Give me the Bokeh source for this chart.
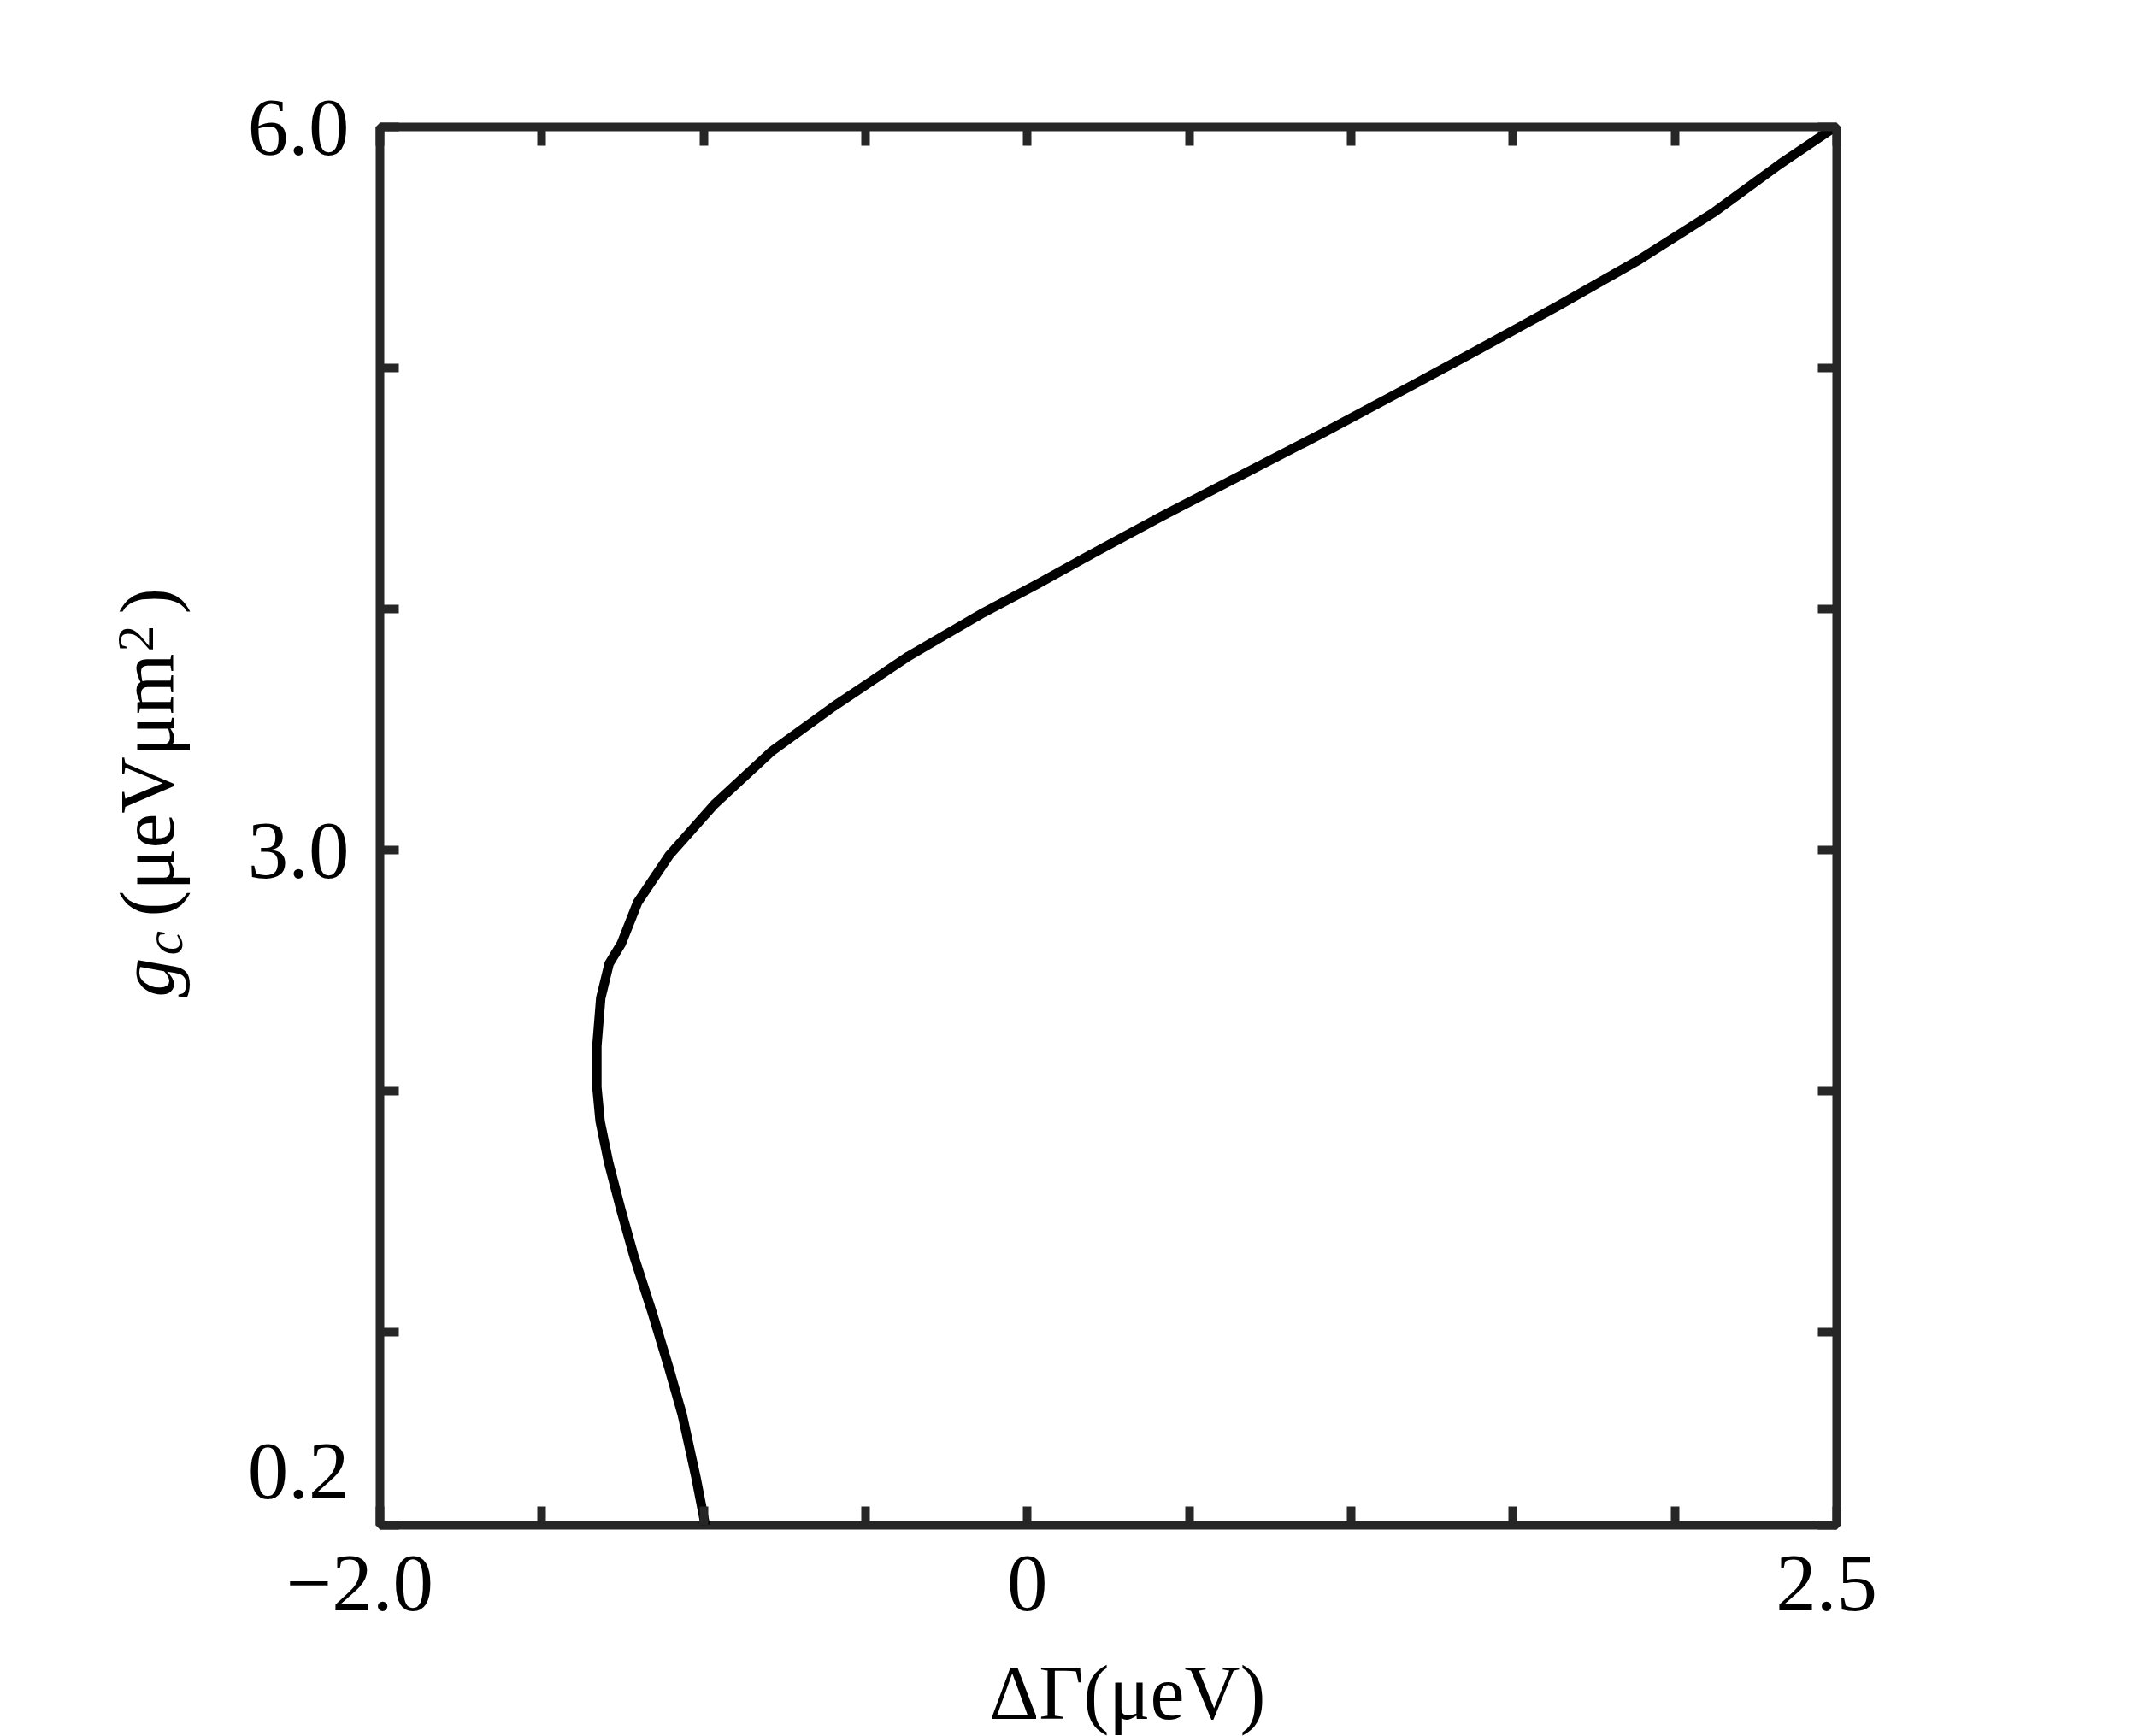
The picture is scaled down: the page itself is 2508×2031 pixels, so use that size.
import math
from bokeh.plotting import figure
from bokeh.layouts import row
from bokeh.models import Range1d, LinearAxis, FixedTicker
from bokeh.core.properties import value
from bokeh.embed import file_html
from bokeh.resources import INLINE

# ---- data ----
delta_gamma = [-0.995, -1.024, -1.066, -1.108, -1.159, -1.214, -1.256, -1.294, -1.320,
               -1.330, -1.330, -1.318, -1.292, -1.254, -1.204, -1.106, -0.967, -0.790,
               -0.600, -0.367, -0.135, 0.032, 0.201, 0.412, 0.666, 0.919, 1.173, 1.384,
               1.638, 1.891, 2.123, 2.326, 2.495]
g_c = [0.20, 0.40, 0.657, 0.855, 1.082, 1.31, 1.51, 1.706, 1.876,
       2.018, 2.188, 2.387, 2.53, 2.614, 2.784, 2.98, 3.19, 3.41,
       3.595, 3.805, 3.986, 4.105, 4.23, 4.383, 4.559, 4.735, 4.917, 5.07,
       5.257, 5.45, 5.648, 5.847, 6.0]

x_ticks = [-2.0, -1.5, -1.0, -0.5, 0.0, 0.5, 1.0, 1.5, 2.0, 2.5]
x_tick_labels = {-2.0: "\u22122.0\u2002", 0.0: "0", 2.5: "2.5\u2005"}
y_ticks = [0.2, 1.0, 2.0, 3.0, 4.0, 5.0, 6.0]
y_tick_labels = {0.2: "0.2\n", 3.0: "3.0", 6.0: "6.0"}
x_label = "\u2002\u0394\u0393(\u03bceV)"
# y label pieces: g_c (\u03bceV\u03bcm^2)
y_label_text = ["g", "c", "(\u03bceV\u03bcm", "2", ")"]

FONT = "Liberation Serif"
FRAME = "#262626"

TOTAL_H = 2024
LABEL_W = 260

p = figure(frame_width=1704, frame_height=1636,
           x_range=Range1d(-2.0, 2.5), y_range=Range1d(0.2, 6.0),
           output_backend="svg", toolbar_location=None,
           x_axis_location=None, y_axis_location=None,
           min_border_left=444 - LABEL_W, min_border_top=148,
           min_border_right=280, min_border_bottom=TOTAL_H - 148 - 1636,
           align="start")
p.grid.visible = False
p.outline_line_color = FRAME
p.outline_line_width = 10
p.background_fill_color = "white"
p.border_fill_color = "white"


def make_axis(ticks, labels, show):
    ax = LinearAxis(ticker=FixedTicker(ticks=ticks, minor_ticks=[]))
    ax.major_label_overrides = {float(t): (labels.get(float(t), "") if show else "") for t in ticks}
    ax.axis_line_color = None
    ax.major_tick_in = 22
    ax.major_tick_out = 0
    ax.major_tick_line_width = 10
    ax.major_tick_line_color = FRAME
    ax.minor_tick_line_color = None
    ax.major_label_text_font = FONT
    ax.major_label_text_font_size = "95px"
    ax.major_label_text_color = "black"
    return ax


bottom = make_axis(x_ticks, x_tick_labels, True)
bottom.major_label_standoff = 14
bottom.axis_label = x_label
bottom.axis_label_text_font = FONT
bottom.axis_label_text_font_size = "90px"
bottom.axis_label_text_font_style = "normal"
bottom.axis_label_text_color = "black"
bottom.axis_label_standoff = 23
top = make_axis(x_ticks, x_tick_labels, False)
top.major_label_text_font_size = "1px"
left = make_axis(y_ticks, y_tick_labels, True)
left.major_label_standoff = 36
right = make_axis(y_ticks, y_tick_labels, False)
right.major_label_text_font_size = "1px"
p.add_layout(bottom, "below")
p.add_layout(top, "above")
p.add_layout(left, "left")
p.add_layout(right, "right")

p.line(delta_gamma, g_c, line_color="black", line_width=11, line_join="round")

# narrow panel holding the composite y-axis label (rotated text pieces)
q = figure(frame_width=LABEL_W, frame_height=TOTAL_H,
           x_range=Range1d(0, LABEL_W), y_range=Range1d(0, TOTAL_H),
           output_backend="svg", toolbar_location=None,
           x_axis_location=None, y_axis_location=None,
           min_border=0, outline_line_color=None, align="start")
q.grid.visible = False
q.border_fill_color = "white"
q.background_fill_color = "white"

ang = math.pi / 2
lx = [171, 191, 171, 158, 171]
ly = [1006, 1055, 1100, 1410, 1454]
sizes = ["92px", "64px", "92px", "62px", "92px"]
styles = ["italic", "italic", "normal", "normal", "normal"]
for xx, yy, t, fs, st in zip(lx, ly, y_label_text, sizes, styles):
    q.text(x=[xx], y=[yy], text=[t], angle=ang, text_font=value(FONT),
           text_font_size=fs, text_font_style=st, text_color="black",
           text_align="left", text_baseline="alphabetic")

layout = row(q, p, spacing=0, align="start")
open("out.html", "w").write(file_html(layout, INLINE))
